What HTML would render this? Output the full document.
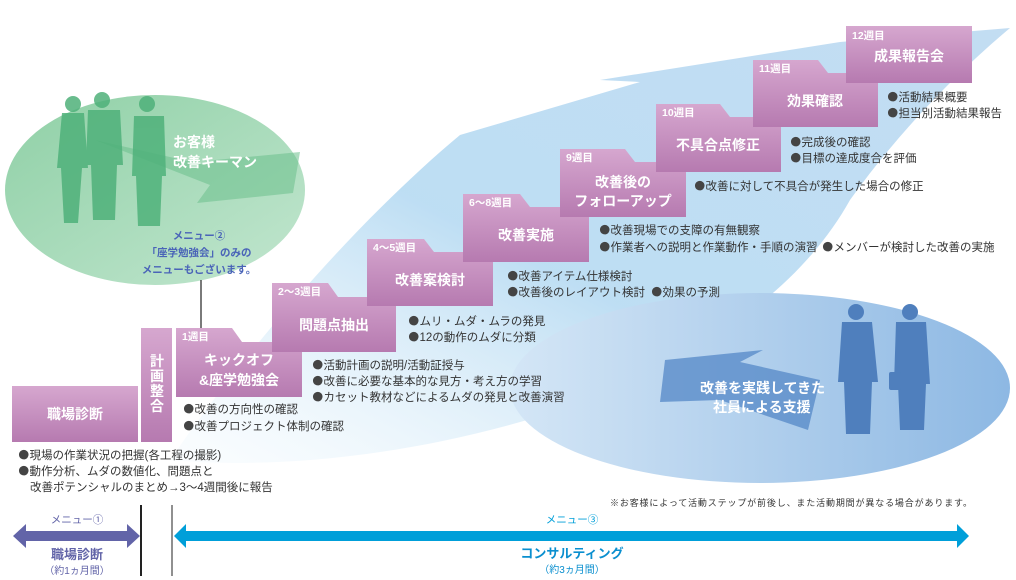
<!DOCTYPE html>
<html><head><meta charset="utf-8"><style>
html,body{margin:0;padding:0;background:#fff}
svg{display:block}
text{font-family:"Liberation Sans","Noto Sans CJK JP",sans-serif}
.b{font-size:11.5px;fill:#333;font-family:"Noto Sans CJK JP",sans-serif}
.b tspan.d{font-family:"IPAGothic","WenQuanYi Zen Hei",sans-serif;fill:#444}
.t{font-size:14px;font-weight:bold;fill:#fff}
.w{font-size:10.5px;font-weight:bold;fill:#fff}
</style></head><body>
<svg width="1016" height="580" viewBox="0 0 1016 580" xmlns="http://www.w3.org/2000/svg">
<defs>
<linearGradient id="pg" x1="0" y1="0" x2="0" y2="1"><stop offset="0" stop-color="#d6a7cf"/><stop offset="1" stop-color="#b67ab0"/></linearGradient>
<linearGradient id="gg" x1="0" y1="0" x2="1" y2="1"><stop offset="0" stop-color="#8fd0a6"/><stop offset="1" stop-color="#c2e6cf"/></linearGradient>
<linearGradient id="bg" x1="0" y1="0" x2="1" y2="0"><stop offset="0" stop-color="#d4e6f6"/><stop offset="1" stop-color="#8db8e3"/></linearGradient>
<linearGradient id="sw" x1="0" y1="1" x2="1" y2="0"><stop offset="0" stop-color="#e6f4fc" stop-opacity="0.2"/><stop offset="0.45" stop-color="#b6daf2"/><stop offset="1" stop-color="#bcd9f1"/></linearGradient>
</defs>
<ellipse cx="155" cy="190" rx="150" ry="95" fill="url(#gg)"/>
<path d="M170 460 C260 330 370 210 460 135 L640 82 L600 80 L840 42 L1010 28 C960 70 900 130 850 200 C800 290 700 360 560 410 C420 455 280 470 170 460 Z" fill="url(#sw)" opacity="0.9"/>
<ellipse cx="760" cy="388" rx="250" ry="95" fill="url(#bg)"/>
<polygon points="95,140 205,165 215,160 300,152 293,193 197,203 210,185" fill="#6cc08c" opacity="0.55"/>
<g fill="#4fb17a" opacity="0.85">
<circle cx="73" cy="104" r="8"/><path d="M62 113 h22 l4 55 h-6 l-4 55 h-14 l-3 -55 h-4 z"/>
<circle cx="102" cy="100" r="8"/><path d="M88 110 h32 l3 55 h-6 l-2 55 h-22 l-2 -55 h-5 z"/>
<circle cx="147" cy="104" r="8"/><path d="M134 116 h30 l2 60 h-4 l-2 50 h-22 l-2 -50 h-4 z"/>
</g>
<polygon points="665,360 763,350 740,362 820,380 808,430 720,400 660,402" fill="#5a8cc9" opacity="0.8"/>
<g fill="#4f7fbd">
<circle cx="856" cy="312" r="8"/><path d="M842 322 h30 l6 60 h-6 l-2 52 h-24 l-2 -52 h-6 z"/>
<circle cx="910" cy="312" r="8"/><path d="M896 322 h30 l4 62 h-4 l-2 46 h-24 l-2 -46 h-4 z"/><rect x="889" y="372" width="12" height="18" rx="2"/>
</g>
<text class="t" x="173" y="147">お客様</text><text class="t" x="173" y="167">改善キーマン</text>
<text class="t" x="700" y="393">改善を実践してきた</text><text class="t" x="713" y="412">社員による支援</text>
<g font-size="10.5" fill="#4a64b8" text-anchor="middle" font-weight="bold">
<text x="199" y="239">メニュー②</text><text x="199" y="256">「座学勉強会」のみの</text><text x="199" y="273">メニューもございます。</text></g>
<line x1="201" y1="280" x2="201" y2="330" stroke="#222" stroke-width="1.2"/>
<rect x="12" y="386" width="126" height="56" fill="url(#pg)"/>
<text class="t" x="75" y="419" text-anchor="middle">職場診断</text>
<rect x="141" y="328" width="31" height="114" fill="url(#pg)"/>
<g class="t" text-anchor="middle"><text x="157" y="366">計</text><text x="157" y="381">画</text><text x="157" y="396">整</text><text x="157" y="411">合</text></g>
<g>
<path d="M176 328 H232 L242 342 H302 V397 H176 Z" fill="url(#pg)"/>
<text class="w" x="182" y="340">1週目</text>
<text class="t" x="239" y="365" text-anchor="middle">キックオフ</text><text class="t" x="239" y="385" text-anchor="middle">&amp;座学勉強会</text>
<path d="M272 283 H328 L338 297 H396 V352 H272 Z" fill="url(#pg)"/>
<text class="w" x="278" y="295">2〜3週目</text><text class="t" x="334" y="330" text-anchor="middle">問題点抽出</text>
<path d="M367 239 H424 L434 252 H493 V306 H367 Z" fill="url(#pg)"/>
<text class="w" x="373" y="251">4〜5週目</text><text class="t" x="430" y="285" text-anchor="middle">改善案検討</text>
<path d="M463 194 H520 L530 207 H589 V262 H463 Z" fill="url(#pg)"/>
<text class="w" x="469" y="206">6〜8週目</text><text class="t" x="526" y="240" text-anchor="middle">改善実施</text>
<path d="M560 149 H625 L635 162 H686 V217 H560 Z" fill="url(#pg)"/>
<text class="w" x="566" y="161">9週目</text><text class="t" x="623" y="187" text-anchor="middle">改善後の</text><text class="t" x="623" y="206" text-anchor="middle">フォローアップ</text>
<path d="M656 104 H720 L730 117 H781 V172 H656 Z" fill="url(#pg)"/>
<text class="w" x="662" y="116">10週目</text><text class="t" x="718" y="150" text-anchor="middle">不具合点修正</text>
<path d="M753 60 H818 L828 73 H878 V127 H753 Z" fill="url(#pg)"/>
<text class="w" x="759" y="72">11週目</text><text class="t" x="815" y="106" text-anchor="middle">効果確認</text>
<rect x="846" y="26" width="126" height="57" fill="url(#pg)"/>
<text class="w" x="852" y="39">12週目</text><text class="t" x="909" y="61" text-anchor="middle">成果報告会</text>
</g>
<g class="b">
<text x="18" y="459"><tspan class="d">●</tspan>現場の作業状況の把握(各工程の撮影)</text>
<text x="18" y="475"><tspan class="d">●</tspan>動作分析、ムダの数値化、問題点と</text>
<text x="30" y="491">改善ポテンシャルのまとめ→3〜4週間後に報告</text>
<text x="183" y="413"><tspan class="d">●</tspan>改善の方向性の確認</text>
<text x="183" y="430"><tspan class="d">●</tspan>改善プロジェクト体制の確認</text>
<text x="312" y="369"><tspan class="d">●</tspan>活動計画の説明/活動証授与</text>
<text x="312" y="385"><tspan class="d">●</tspan>改善に必要な基本的な見方・考え方の学習</text>
<text x="312" y="401"><tspan class="d">●</tspan>カセット教材などによるムダの発見と改善演習</text>
<text x="408" y="325"><tspan class="d">●</tspan>ムリ・ムダ・ムラの発見</text>
<text x="408" y="341"><tspan class="d">●</tspan>12の動作のムダに分類</text>
<text x="507" y="280"><tspan class="d">●</tspan>改善アイテム仕様検討</text>
<text x="507" y="296"><tspan class="d">●</tspan>改善後のレイアウト検討</text>
<text x="651" y="296"><tspan class="d">●</tspan>効果の予測</text>
<text x="599" y="234"><tspan class="d">●</tspan>改善現場での支障の有無観察</text>
<text x="599" y="251"><tspan class="d">●</tspan>作業者への説明と作業動作・手順の演習</text>
<text x="822" y="251"><tspan class="d">●</tspan>メンバーが検討した改善の実施</text>
<text x="694" y="190"><tspan class="d">●</tspan>改善に対して不具合が発生した場合の修正</text>
<text x="790" y="146"><tspan class="d">●</tspan>完成後の確認</text>
<text x="790" y="162"><tspan class="d">●</tspan>目標の達成度合を評価</text>
<text x="887" y="101"><tspan class="d">●</tspan>活動結果概要</text>
<text x="887" y="117"><tspan class="d">●</tspan>担当別活動結果報告</text>
<text x="610" y="506" font-size="9" textLength="362">※お客様によって活動ステップが前後し、また活動期間が異なる場合があります。</text>
</g>
<line x1="141" y1="505" x2="141" y2="576" stroke="#222" stroke-width="2"/>
<line x1="172" y1="505" x2="172" y2="576" stroke="#222" stroke-width="1"/>
<polygon points="13,536 26,524 26,531 127,531 127,524 140,536 127,548 127,541 26,541 26,548" fill="#6264a8"/>
<polygon points="174,536 186,524 186,531 957,531 957,524 969,536 957,548 957,541 186,541 186,548" fill="#009fd9"/>
<text x="77" y="523" font-size="10.5" fill="#6264a8" text-anchor="middle">メニュー①</text>
<text x="77" y="559" font-size="13" font-weight="bold" fill="#6264a8" text-anchor="middle">職場診断</text>
<text x="77" y="574" font-size="10" fill="#6264a8" text-anchor="middle">（約1ヵ月間）</text>
<text x="572" y="523" font-size="10.5" fill="#009fd9" text-anchor="middle">メニュー③</text>
<text x="572" y="558" font-size="13" font-weight="bold" fill="#0a8fcf" text-anchor="middle">コンサルティング</text>
<text x="572" y="573" font-size="10" fill="#0a8fcf" text-anchor="middle">（約3ヵ月間）</text>
</svg>
</body></html>
